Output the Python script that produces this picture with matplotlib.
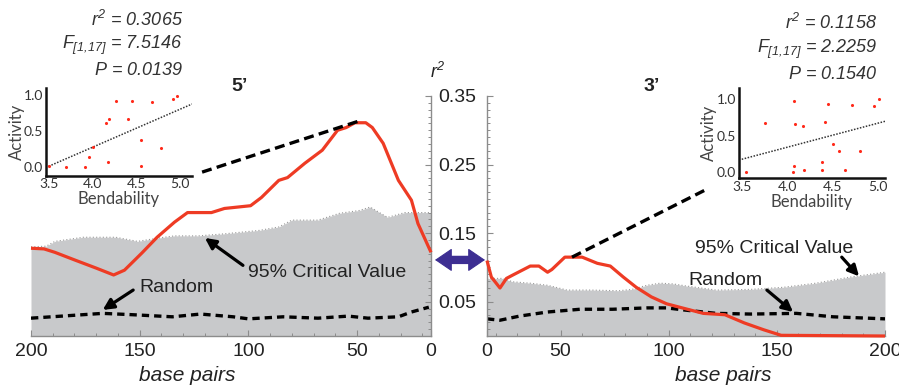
import matplotlib
matplotlib.use('Agg')
import matplotlib.pyplot as plt
from matplotlib.patches import ConnectionPatch
import numpy as np

plt.rcParams['font.family'] = ['Liberation Sans', 'DejaVu Sans']
plt.rcParams['mathtext.fontset'] = 'custom'
plt.rcParams['mathtext.rm'] = 'Liberation Sans:italic'
plt.rcParams['mathtext.it'] = 'Liberation Sans:italic'

# 5' side
left_bp_r2 = [200, 194, 189, 180, 170, 162, 157, 149, 142, 134, 128, 123, 117, 111, 99,
              94, 86, 82, 74, 66, 59, 55, 51, 46, 43, 38, 31, 25, 22, 16]
left_r2 = [0.128, 0.127, 0.122, 0.111, 0.099, 0.089, 0.096, 0.121, 0.144, 0.166, 0.180,
           0.180, 0.180, 0.186, 0.190, 0.202, 0.227, 0.231, 0.252, 0.271, 0.300, 0.304,
           0.311, 0.311, 0.304, 0.281, 0.227, 0.198, 0.164, 0.122]
left_bp_crit = [200, 193, 189, 176, 161, 151, 141, 134, 123, 111, 95, 86, 80, 68, 58, 49,
                44, 36, 28, 16]
left_crit = [0.130, 0.131, 0.138, 0.144, 0.144, 0.138, 0.143, 0.146, 0.146, 0.149, 0.154,
             0.159, 0.169, 0.169, 0.179, 0.183, 0.188, 0.173, 0.180, 0.180]
left_bp_rand = [200, 167, 153, 135, 122, 107, 100, 84, 68, 54, 45, 31, 25, 17]
left_rand = [0.026, 0.033, 0.031, 0.028, 0.032, 0.028, 0.025, 0.028, 0.026, 0.029, 0.026,
             0.028, 0.035, 0.042]

# 3' side
right_bp_r2 = [16, 18, 22, 25, 28, 36, 40, 44, 46, 52, 60, 67, 73, 79, 85, 92, 99, 105,
               116, 126, 135, 144, 152, 200]
right_r2 = [0.110, 0.086, 0.070, 0.084, 0.089, 0.102, 0.102, 0.093, 0.097, 0.115, 0.115,
            0.106, 0.102, 0.086, 0.071, 0.057, 0.047, 0.042, 0.033, 0.031, 0.019, 0.009,
            0.001, 0.000]
right_bp_crit = [16, 23, 28, 36, 44, 53, 64, 77, 83, 90, 96, 102, 108, 122, 138, 153, 168,
                 184, 200]
right_crit = [0.084, 0.084, 0.079, 0.077, 0.074, 0.067, 0.067, 0.066, 0.068, 0.074, 0.077,
              0.076, 0.073, 0.067, 0.068, 0.071, 0.077, 0.086, 0.093]
right_bp_rand = [16, 22, 31, 44, 59, 74, 90, 99, 107, 122, 138, 159, 176, 200]
right_rand = [0.025, 0.023, 0.029, 0.035, 0.039, 0.039, 0.041, 0.041, 0.038, 0.033, 0.032,
              0.033, 0.028, 0.025]

# inset scatters: bendability vs activity
left_bend = [3.51, 3.70, 3.92, 3.96, 4.01, 4.18, 4.16, 4.19, 4.27, 4.45, 4.41, 4.56, 4.56,
             4.68, 4.79, 4.92, 4.97]
left_act = [0.01, 0.0, 0.0, 0.13, 0.28, 0.06, 0.61, 0.67, 0.91, 0.92, 0.66, 0.37, 0.01,
            0.90, 0.26, 0.95, 0.99]
left_fit = [0.53, -1.85]   # slope, intercept
right_bend = [3.55, 3.76, 4.07, 4.09, 4.17, 4.08, 4.06, 4.18, 4.45, 4.42, 4.50, 4.57, 4.38,
              4.38, 4.63, 4.71, 4.80, 4.95, 5.01]
right_act = [0.0, 0.67, 0.97, 0.66, 0.63, 0.08, 0.0, 0.03, 0.93, 0.68, 0.38, 0.29, 0.14,
             0.03, 0.03, 0.92, 0.28, 0.91, 1.0]
right_fit = [0.333, -0.994]

left_stats = ['$r^2$ = 0.3065', '$F_{[1{,}17]}$ = 7.5146', '$P$ = 0.0139']
right_stats = ['$r^2$ = 0.1158', '$F_{[1{,}17]}$ = 2.2259', '$P$ = 0.1540']

xtick_vals = [200, 150, 100, 50, 16]
xtick_text = ['200', '150', '100', '50', '0']
ytick_vals = [0.05, 0.15, 0.25, 0.35]

GRAY = '#c8c9cb'
RED = '#ee3b24'
SPINE = '#8c8c8c'
TXT = '#222222'
PURPLE = '#3d2e92'

fig = plt.figure(figsize=(8.99, 3.87), dpi=100)
ax_l = fig.add_axes([31 / 899, 1 - 336 / 387, 400 / 899, 240 / 387])
ax_r = fig.add_axes([487 / 899, 1 - 336 / 387, 398 / 899, 240 / 387])


def main_panel(ax, bp_r2, r2, bp_crit, crit, bp_rand, rand, side):
    ax.fill_between(bp_crit, 0, crit, color=GRAY, lw=0, zorder=1)
    ax.plot(bp_crit, crit, color='#9a9a9a', lw=0.8, ls=(0, (1, 2)), zorder=1.5)
    ax.plot(bp_rand, rand, color='black', lw=2.4, ls=(0, (2.2, 1.5)), zorder=2)
    ax.plot(bp_r2, r2, color=RED, lw=2.3, zorder=3, clip_on=False,
            solid_capstyle='butt')
    ax.set_ylim(0, 0.35)
    if side == 'left':
        ax.set_xlim(200, 16)
        ax.spines['left'].set_visible(False)
        ax.yaxis.set_ticks_position('right')
        ax.tick_params(axis='y', labelright=False)
    else:
        ax.set_xlim(16, 200)
        ax.spines['right'].set_visible(False)
        ax.yaxis.set_ticks_position('left')
    ax.spines['top'].set_visible(False)
    for s in ax.spines.values():
        s.set_color(SPINE)
        s.set_linewidth(1.0)
    ax.set_xticks(xtick_vals)
    ax.set_xticklabels(xtick_text)
    ax.set_xticks(np.arange(20, 200, 10), minor=True)
    ax.set_yticks(ytick_vals)
    ax.set_yticks(np.arange(0.0, 0.35, 0.01), minor=True)
    ax.tick_params(which='major', direction='in', color=SPINE, length=4.5, width=0.8,
                   labelsize=14, labelcolor=TXT)
    ax.tick_params(which='minor', direction='in', color=SPINE, length=2.5, width=0.7)
    ax.tick_params(axis='x', pad=5)
    ax.tick_params(axis='y', pad=8)
    ax.patch.set_visible(False)
    ax.set_xlabel('base pairs', fontsize=15, style='italic', color=TXT, va='top')


main_panel(ax_l, left_bp_r2, left_r2, left_bp_crit, left_crit, left_bp_rand, left_rand,
           'left')
main_panel(ax_r, right_bp_r2, right_r2, right_bp_crit, right_crit, right_bp_rand,
           right_rand, 'right')
ax_l.xaxis.set_label_coords(0.39, -0.125)
ax_r.xaxis.set_label_coords(0.593, -0.125)

arrow_kw = dict(arrowstyle='-|>', color='black', lw=2.3, mutation_scale=16,
                shrinkA=0, shrinkB=0)

# 5' annotations
ax_l.text(100.2, 0.092, '95% Critical Value', fontsize=14, color=TXT, va='center',
          ha='left', zorder=5)
ax_l.annotate('', xy=(120, 0.143), xytext=(102.5, 0.103), arrowprops=arrow_kw, zorder=5)
ax_l.text(150, 0.071, 'Random', fontsize=14, color=TXT, va='center', ha='left', zorder=5)
ax_l.annotate('', xy=(167, 0.038), xytext=(153, 0.067), arrowprops=arrow_kw, zorder=5)
ax_l.plot([121.3, 49.6], [0.239, 0.313], color='black', lw=2.4, ls=(0, (3, 1.6)),
          clip_on=False, zorder=4)
ax_l.text(0.5225, 1.0375, '5\u2019', transform=ax_l.transAxes, fontsize=14,
          fontweight='bold', ha='center', va='center', color=TXT)

# 3' annotations
ax_r.text(112.2, 0.128, '95% Critical Value', fontsize=14, color=TXT, va='center',
          ha='left', zorder=5)
ax_r.annotate('', xy=(188, 0.087), xytext=(180, 0.115), arrowprops=arrow_kw, zorder=5)
ax_r.text(108.9, 0.0815, 'Random', fontsize=14, color=TXT, va='center', ha='left',
          zorder=5)
ax_r.annotate('', xy=(157.5, 0.035), xytext=(145.4, 0.067), arrowprops=arrow_kw, zorder=5)
ax_r.plot([55.3, 118.2], [0.115, 0.215], color='black', lw=2.4, ls=(0, (3, 1.6)),
          clip_on=False, zorder=4)
ax_r.text(0.415, 1.0375, '3\u2019', transform=ax_r.transAxes, fontsize=14,
          fontweight='bold', ha='center', va='center', color=TXT)
ax_r.text(-0.123, 1.1, '$r^2$', transform=ax_r.transAxes, fontsize=13, ha='center',
          va='center', color=TXT)

# purple double arrow joining the two panels: heads plus a thick shaft
end_a = dict(xyA=(1.01, 0.317), coordsA=ax_l.transAxes,
             xyB=(-0.005, 0.317), coordsB=ax_r.transAxes)
heads = ConnectionPatch(**end_a, arrowstyle='<|-|>,head_length=1.1,head_width=0.75',
                        mutation_scale=10, color=PURPLE, lw=0.8, shrinkA=0, shrinkB=0)
shaft = ConnectionPatch(**end_a, arrowstyle='-', color=PURPLE, lw=6.0,
                        shrinkA=6, shrinkB=6, capstyle='butt')
fig.add_artist(shaft)
fig.add_artist(heads)

# insets
in_l = fig.add_axes([46 / 899, 1 - 175.7 / 387, 146 / 899, 87.7 / 387])
in_r = fig.add_axes([739 / 899, 1 - 178.3 / 387, 146 / 899, 90.3 / 387])


def inset(ax, bend, act, fit, stats, xlim, ylim, ylab_x, xlab_y, stat_x, stat_y):
    ax.scatter(bend, act, s=5, color='#ff2a1a', lw=0, zorder=3)
    fx = np.array(xlim)
    fx[0] = 3.5
    ax.plot(fx, fit[0] * fx + fit[1], color='#333333', lw=1.1, ls=(0, (1, 1)), zorder=2)
    ax.set_xlim(*xlim)
    ax.set_ylim(*ylim)
    ax.set_xticks([3.5, 4.0, 4.5, 5.0])
    ax.set_yticks([0.0, 0.5, 1.0])
    ax.set_xticklabels(['3.5', '4.0', '4.5', '5.0'])
    ax.set_yticklabels(['0.0', '0.5', '1.0'])
    ax.tick_params(length=0, pad=2, labelsize=10, labelcolor='#333333')
    for t in ax.get_xticklabels() + ax.get_yticklabels():
        t.set_family(['Lato', 'DejaVu Sans'])
    for s in ['top', 'right']:
        ax.spines[s].set_visible(False)
    for s in ['left', 'bottom']:
        ax.spines[s].set_linewidth(1.8)
        ax.spines[s].set_color('#111111')
    ax.patch.set_visible(False)
    ax.set_ylabel('Activity', fontsize=12, color='#444444', family=['Lato', 'DejaVu Sans'],
                  va='center')
    ax.set_xlabel('Bendability', fontsize=12, color='#444444',
                  family=['Lato', 'DejaVu Sans'], va='center')
    ax.yaxis.set_label_coords(ylab_x, 0.5)
    ax.xaxis.set_label_coords(0.5, xlab_y)
    for s, yy in zip(stats, stat_y):
        ax.text(stat_x, yy, s, transform=ax.transAxes, fontsize=13, style='italic',
                ha='right', va='center', color='#333333')


inset(in_l, left_bend, left_act, left_fit, left_stats, (3.47, 5.14), (-0.126, 1.098),
      -0.2, -0.26, 0.938, [1.775, 1.49, 1.205])
inset(in_r, right_bend, right_act, right_fit, right_stats, (3.47, 5.075), (-0.091, 1.156),
      -0.204, -0.265, 0.945, [1.723, 1.429, 1.144])

fig.savefig('out.png', dpi=100)
